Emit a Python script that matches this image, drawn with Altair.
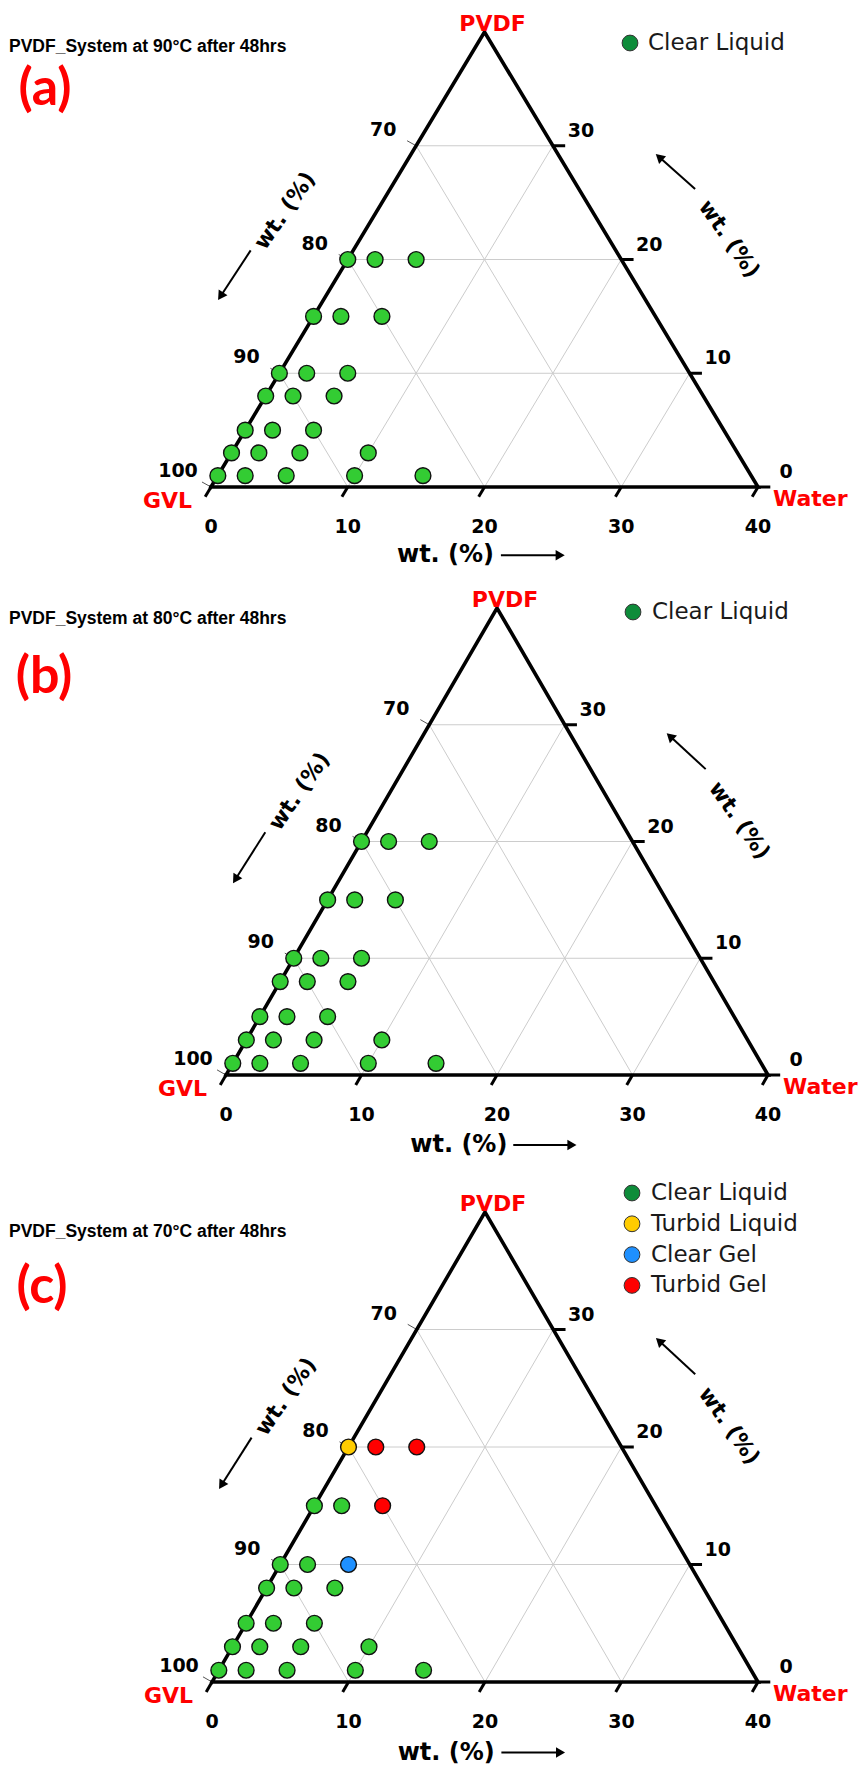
import math
import altair as alt
import pandas as pd

# ---------------------------------------------------------------------------
# Sample compositions (wt.%) : PVDF and water, GVL is the balance to 100 %
# ---------------------------------------------------------------------------
PVDF_WT = [1, 1, 1, 1, 1, 3, 3, 3, 3, 5, 5, 5, 8, 8, 8, 10, 10, 10, 15, 15, 15, 20, 20, 20]
WATER_WT = [0, 2, 5, 10, 15, 0, 2, 5, 10, 0, 2, 5, 0, 2, 5, 0, 2, 5, 0, 2, 5, 0, 2, 5]

CL, TL, CG, TG = "Clear Liquid", "Turbid Liquid", "Clear Gel", "Turbid Gel"
STATE_90C = [CL] * 24
STATE_80C = [CL] * 24
STATE_70C = [CL] * 17 + [CG, CL, CL, TG, TL, TG, TG]

STATES = [CL, TL, CG, TG]
POINT_COLORS = ["#33cc33", "#ffcc00", "#1e90ff", "#ff0000"]
LEGEND_COLORS = ["#0e8c3a", "#ffcc00", "#1e90ff", "#ff0000"]

# axis ticks of the 40 wt.% window
WATER_TICKS = [0, 10, 20, 30, 40]
PVDF_TICKS = [0, 10, 20, 30]
GVL_TICKS = [100, 90, 80, 70]
GRID_LEVELS = [10, 20, 30]
SPAN = 40

FULL_W = 862

# page layout of the three diagrams (pixels inside each panel)
PANELS = [
    dict(tag="(a)", temp=90, states=STATE_90C, legend=[CL], height=578,
         gvl_x=211, water_x=758, base_y=487, apex_y=32,
         title_y=47, tag_xy=(45, 89), leg_x=630, leg_tx=648, leg_y=43),
    dict(tag="(b)", temp=80, states=STATE_80C, legend=[CL], height=584,
         gvl_x=226, water_x=768, base_y=497, apex_y=30,
         title_y=41, tag_xy=(44, 99), leg_x=633, leg_tx=652, leg_y=34),
    dict(tag="(c)", temp=70, states=STATE_70C, legend=STATES, height=604,
         gvl_x=212, water_x=758, base_y=520, apex_y=50,
         title_y=70, tag_xy=(42, 125), leg_x=632, leg_tx=651, leg_y=31),
]
LEGEND_STEP = 30.8

# annotation anchors in projected triangle units (x = water + pvdf/2, y = pvdf)
LEFT_TITLE = (5.4, 24.3)
RIGHT_TITLE = (37.9, 21.8)
BOTTOM_TITLE = (13.6, -6.0)
LEFT_ARROW = ((2.9, 20.8), (0.5, 16.4))
RIGHT_ARROW = ((35.4, 26.2), (32.5, 29.3))
BOTTOM_ARROW = ((21.2, -6.0), (25.9, -6.0))

LABEL_FONT = "DejaVu Sans"


def proj(water, pvdf):
    """Ternary (water, pvdf) -> planar coordinates of the window triangle."""
    return water + pvdf / 2.0, pvdf


def seg(w1, p1, w2, p2):
    x1, y1 = proj(w1, p1)
    x2, y2 = proj(w2, p2)
    return {"x": x1, "y": y1, "x2": x2, "y2": y2}


def build_panel(cfg):
    H = cfg["height"]
    ux = (cfg["water_x"] - cfg["gvl_x"]) / SPAN
    uy = (cfg["base_y"] - cfg["apex_y"]) / SPAN
    xs = alt.Scale(domain=[-cfg["gvl_x"] / ux, (FULL_W - cfg["gvl_x"]) / ux], nice=False, zero=False)
    ys = alt.Scale(domain=[(cfg["base_y"] - H) / uy, cfg["base_y"] / uy], nice=False, zero=False)

    X = lambda f="x": alt.X(f"{f}:Q", scale=xs, axis=None)
    Y = lambda f="y": alt.Y(f"{f}:Q", scale=ys, axis=None)

    def rules(rows, color, width):
        return alt.Chart(pd.DataFrame(rows)).mark_rule(
            color=color, strokeWidth=width, strokeCap="butt"
        ).encode(x=X(), y=Y(), x2="x2:Q", y2="y2:Q")

    # grid lines: constant PVDF, constant water, constant GVL
    grid = []
    for k in GRID_LEVELS:
        grid.append(seg(0, k, SPAN - k, k))
        grid.append(seg(k, 0, k, SPAN - k))
        grid.append(seg(k, 0, 0, k))
    grid_layer = rules(grid, "#cccccc", 1)

    # thin GVL ticks on the left edge
    left_ticks = [seg(0, 100 - g, -0.88, 100 - g + 0.44) for g in GVL_TICKS]
    left_tick_layer = rules(left_ticks, "#555555", 1)

    # heavy ticks on the right edge and the base
    heavy = [seg(SPAN - p, p, SPAN - p + 0.9, p) for p in PVDF_TICKS]
    heavy += [seg(w, 0, w, -0.85) for w in WATER_TICKS]
    heavy_layer = rules(heavy, "black", 3)

    # triangle outline
    corners = [(0, 0), (SPAN, 0), (0, SPAN), (0, 0)]
    outline = pd.DataFrame(
        [dict(zip(("x", "y"), proj(w, p)), i=i) for i, (w, p) in enumerate(corners)]
    )
    outline_layer = alt.Chart(outline).mark_line(
        color="black", strokeWidth=3.6, strokeJoin="miter", strokeCap="square"
    ).encode(x=X(), y=Y(), order=alt.Order("i:Q"))

    # samples
    pts = pd.DataFrame({"pvdf": PVDF_WT, "water": WATER_WT, "state": cfg["states"]})
    pts["gvl"] = 100 - pts["pvdf"] - pts["water"]
    pts["x"] = pts["water"] + pts["pvdf"] / 2.0
    pts["y"] = pts["pvdf"]
    point_layer = alt.Chart(pts).mark_circle(
        size=250, opacity=1, stroke="#111111", strokeWidth=1.4
    ).encode(
        x=X(), y=Y(),
        fill=alt.Fill("state:N", scale=alt.Scale(domain=STATES, range=POINT_COLORS), legend=None),
    )

    # tick labels
    def labels(rows, **kw):
        return alt.Chart(pd.DataFrame(rows)).mark_text(
            font=LABEL_FONT, fontWeight="bold", fontSize=19, color="black", **kw
        ).encode(x=X(), y=Y(), text="t:N")

    left_lab = labels([dict(zip(("x", "y"), proj(0, 100 - g)), t=str(g)) for g in GVL_TICKS],
                      align="center", baseline="middle", dx=-33, dy=-16)
    right_lab = labels([dict(zip(("x", "y"), proj(SPAN - p, p)), t=str(p)) for p in PVDF_TICKS],
                       align="center", baseline="middle", dx=28, dy=-15)
    bottom_lab = labels([dict(zip(("x", "y"), proj(w, 0)), t=str(w)) for w in WATER_TICKS],
                        align="center", baseline="middle", dx=0, dy=40)

    # corner names
    def corner(name, w, p, **kw):
        x, y = proj(w, p)
        return alt.Chart(pd.DataFrame([{"x": x, "y": y, "t": name}])).mark_text(
            font=LABEL_FONT, fontWeight="bold", fontSize=22, color="#ff0000", **kw
        ).encode(x=X(), y=Y(), text="t:N")

    c_pvdf = corner("PVDF", 0, SPAN, align="center", baseline="alphabetic", dx=8, dy=-1)
    c_gvl = corner("GVL", 0, 0, align="right", baseline="middle", dx=-19, dy=14)
    c_water = corner("Water", SPAN, 0, align="left", baseline="middle", dx=15, dy=12)

    # axis titles
    def axis_title(xy, size, **kw):
        return alt.Chart(pd.DataFrame([{"x": xy[0], "y": xy[1], "t": "wt. (%)"}])).mark_text(
            font=LABEL_FONT, fontWeight="bold", fontSize=size, color="black", baseline="middle", **kw
        ).encode(x=X(), y=Y(), text="t:N")

    t_left = axis_title(LEFT_TITLE, 22, align="center", angle=305)
    t_right = axis_title(RIGHT_TITLE, 22, align="center", angle=55)
    t_bottom = axis_title(BOTTOM_TITLE, 24, align="left")

    # arrows: shaft + triangular head
    shafts, heads = [], []
    for (tx, ty), (hx, hy) in (LEFT_ARROW, RIGHT_ARROW, BOTTOM_ARROW):
        dxp = (hx - tx) * ux
        dyp = -(hy - ty) * uy
        length = math.hypot(dxp, dyp)
        back = 5.0 / length
        shafts.append({"x": tx, "y": ty, "x2": hx - (hx - tx) * back, "y2": hy - (hy - ty) * back})
        ang = math.degrees(math.atan2(dxp, -dyp)) % 360
        heads.append({"x": hx - (hx - tx) * back, "y": hy - (hy - ty) * back, "ang": ang})
    shaft_layer = rules(shafts, "black", 2)
    head_layer = alt.Chart(pd.DataFrame(heads)).mark_point(
        shape="triangle-up", filled=True, size=110, color="black", opacity=1
    ).encode(x=X(), y=Y(), angle=alt.Angle("ang:Q", scale=None))

    # panel title, tag and legend (pixel placement)
    one = pd.DataFrame([{"t": f"PVDF_System at {cfg['temp']}\u00b0C after 48hrs"}])
    title = alt.Chart(one).mark_text(
        font="Liberation Sans", fontWeight="bold", fontSize=17.5, color="black",
        align="left", baseline="middle"
    ).encode(x=alt.value(9), y=alt.value(cfg["title_y"]), text="t:N")

    tag = alt.Chart(pd.DataFrame([{"t": cfg["tag"]}])).mark_text(
        font="Lato", fontWeight="bold", fontSize=52, color="#ff0000",
        align="center", baseline="middle"
    ).encode(x=alt.value(cfg["tag_xy"][0]), y=alt.value(cfg["tag_xy"][1]), text="t:N")

    legend_layers = []
    for i, state in enumerate(cfg["legend"]):
        ly = cfg["leg_y"] + i * LEGEND_STEP
        row = pd.DataFrame([{"t": state}])
        legend_layers.append(
            alt.Chart(row).mark_circle(
                size=250, opacity=1, fill=LEGEND_COLORS[STATES.index(state)],
                stroke="#333333", strokeWidth=1
            ).encode(x=alt.value(cfg["leg_x"]), y=alt.value(ly))
        )
        legend_layers.append(
            alt.Chart(row).mark_text(
                font=LABEL_FONT, fontSize=23, color="#1a1a1a", align="left", baseline="middle"
            ).encode(x=alt.value(cfg["leg_tx"]), y=alt.value(ly), text="t:N")
        )

    layers = [grid_layer, left_tick_layer, heavy_layer, outline_layer, point_layer,
              left_lab, right_lab, bottom_lab, c_pvdf, c_gvl, c_water,
              t_left, t_right, t_bottom, shaft_layer, head_layer, title, tag] + legend_layers
    return alt.layer(*layers).properties(width=FULL_W, height=H)


chart = (
    alt.vconcat(*[build_panel(c) for c in PANELS], spacing=0)
    .resolve_scale(x="independent", y="independent", fill="independent")
    .properties(padding=0, background="white")
    .configure_view(stroke=None)
)

chart.save("out.html", embed_options={"renderer": "svg", "actions": False})
